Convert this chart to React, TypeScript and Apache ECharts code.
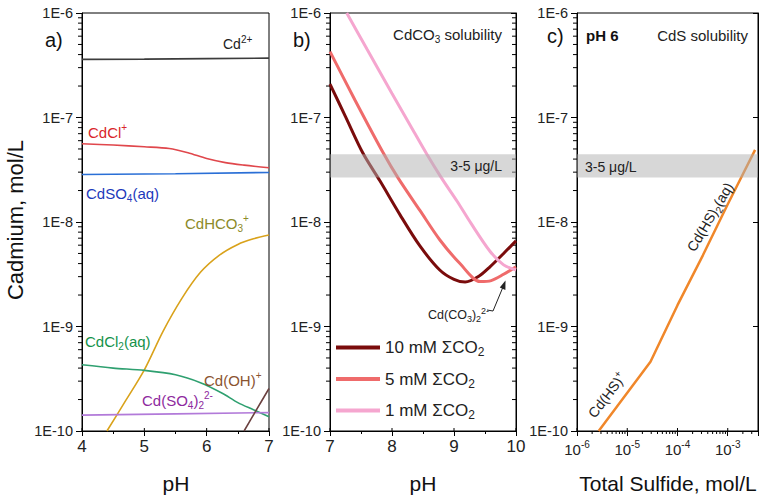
import React, { useEffect, useRef } from "react";
import * as echarts from "echarts";

const FONT = '"Liberation Sans", Arial, Helvetica, sans-serif';

// ---------- Panel a) Cd speciation vs pH ----------
const phCd2 = [4, 5, 6, 7];
const valCd2 = [3.6e-7, 3.62e-7, 3.66e-7, 3.7e-7];
const phCdCl = [4, 4.5, 5, 5.4, 5.7, 6.0, 6.3, 6.6, 7];
const valCdCl = [5.6e-8, 5.45e-8, 5.25e-8, 5.05e-8, 4.6e-8, 4.05e-8, 3.7e-8, 3.5e-8, 3.3e-8];
const phCdSO4 = [4, 5.5, 7];
const valCdSO4 = [2.85e-8, 2.9e-8, 2.98e-8];
const phCdHCO3 = [4.4, 4.7, 5.0, 5.3, 5.6, 5.9, 6.2, 6.5, 6.75, 7.0];
const valCdHCO3 = [1.0e-10, 1.95e-10, 3.85e-10, 9.0e-10, 1.85e-9, 3.3e-9, 4.8e-9, 6.1e-9, 6.9e-9, 7.5e-9];
const phCdCl2 = [4, 4.5, 5, 5.5, 5.9, 6.25, 6.5, 6.75, 7];
const valCdCl2 = [4.3e-10, 4.0e-10, 3.8e-10, 3.45e-10, 2.9e-10, 2.3e-10, 1.87e-10, 1.6e-10, 1.37e-10];
const phCdSO42 = [4, 5.5, 7];
const valCdSO42 = [1.42e-10, 1.46e-10, 1.5e-10];
const phCdOH = [6.6, 6.8, 7.0];
const valCdOH = [1.0e-10, 1.6e-10, 2.55e-10];

// ---------- Panel b) CdCO3 solubility ----------
const ph10 = [7.0, 7.25, 7.53, 7.81, 8.13, 8.45, 8.77, 9.0, 9.18, 9.4, 9.58, 9.8, 10.0];
const val10 = [2.09e-7, 1.02e-7, 4.57e-8, 2.45e-8, 1.17e-8, 5.9e-9, 3.47e-9, 2.82e-9, 2.66e-9, 3.02e-9, 3.72e-9, 5.0e-9, 6.6e-9];
const ph5 = [7.0, 7.4, 7.86, 8.1, 8.45, 8.77, 9.1, 9.42, 9.6, 9.8, 10.0];
const val5 = [4.27e-7, 1.48e-7, 4.57e-8, 2.63e-8, 1.29e-8, 6.76e-9, 3.98e-9, 2.69e-9, 2.75e-9, 3.16e-9, 3.72e-9];
const ph1 = [7.27, 7.6, 8.0, 8.3, 8.56, 8.8, 9.05, 9.27, 9.58, 9.8, 10.0];
const val1 = [1.0e-6, 4.47e-7, 1.7e-7, 8.3e-8, 4.47e-8, 2.63e-8, 1.58e-8, 9.8e-9, 5.25e-9, 3.89e-9, 3.47e-9];
const legendNames = ["10 mM \u03A3CO2", "5 mM \u03A3CO2", "1 mM \u03A3CO2"];

// ---------- Panel c) CdS solubility ----------
const sulfide = [2.7e-6, 2.9e-5, 1.0e-4, 3.2e-4, 1.0e-3, 3.5e-3];
const valCdS = [1.0e-10, 4.6e-10, 1.6e-9, 4.8e-9, 1.48e-8, 4.9e-8];

// 3-5 ug/L band (mol/L)
const bandLow = 2.67e-8;
const bandHigh = 4.45e-8;

// axis ranges / ticks
const yMin = 1e-10;
const yMax = 1e-6;
const xMinC = 1e-6;
const xMaxC = 4e-3;
const majorXA = [4, 5, 6, 7];
const majorXB = [7, 8, 9, 10];
const majorXC = [1e-6, 1e-5, 1e-4, 1e-3];
const minorMult = [2, 3, 4, 5, 6, 7, 8, 9];
const decadesY = [1e-10, 1e-9, 1e-8, 1e-7];
const decadesX = [1e-6, 1e-5, 1e-4, 1e-3];

const zip = (xs: number[], ys: number[]) => xs.map((x, i) => [x, ys[i]]);

function chemText(segs: [string, string][], color: string, size: number, bold = false) {
  const text = segs.map(([t, k]) => `{${k || "n"}|${t}}`).join("");
  const small = Math.round(size * 0.68);
  const base = { fill: color, fontFamily: FONT, fontWeight: bold ? "bold" : "normal" };
  return {
    text,
    rich: {
      n: { ...base, fontSize: size, lineHeight: size + 5 },
      sub: { ...base, fontSize: small, lineHeight: small + 1, verticalAlign: "bottom" },
      sup: { ...base, fontSize: small, lineHeight: small + 1, verticalAlign: "top" },
    },
  };
}

function label(x: number, y: number, segs: [string, string][], color: string, size: number, opts: any = {}) {
  const st = chemText(segs, color, size, opts.bold);
  return {
    type: "text",
    x,
    y,
    rotation: opts.rotation || 0,
    silent: true,
    z: 20,
    style: {
      ...st,
      fill: color,
      align: opts.align || "left",
      textAlign: opts.align || "left",
      verticalAlign: "middle",
      textVerticalAlign: "middle",
    },
  };
}

function plainText(x: number, y: number, text: string, size: number, rotation = 0) {
  return {
    type: "text",
    x,
    y,
    rotation,
    silent: true,
    style: { text, fill: "#111", fontFamily: FONT, fontSize: size, align: "center", textAlign: "center", verticalAlign: "middle", textVerticalAlign: "middle" },
  };
}

function buildLabels(): any[] {
  return [
    plainText(15, 220, "Cadmium, mol/L", 22, Math.PI / 2),
    plainText(176, 483, "pH", 21),
    plainText(423, 483, "pH", 21),
    plainText(668, 483, "Total Sulfide, mol/L", 21),
    // panel letters
    label(45, 40, [["a)", ""]], "#111", 20),
    label(293, 40, [["b)", ""]], "#111", 20),
    label(547, 36, [["c)", ""]], "#111", 20),
    // panel a species labels
    label(223, 44, [["Cd", ""], ["2+", "sup"]], "#222", 14),
    label(88, 132, [["CdCl", ""], ["+", "sup"]], "#d9262b", 15),
    label(86, 193, [["CdSO", ""], ["4", "sub"], ["(aq)", ""]], "#1c39bb", 15),
    label(185, 223, [["CdHCO", ""], ["3", "sub"], ["+", "sup"]], "#8c8a28", 15),
    label(85, 341, [["CdCl", ""], ["2", "sub"], ["(aq)", ""]], "#14924a", 15),
    label(204, 380, [["Cd(OH)", ""], ["+", "sup"]], "#8a5430", 15),
    label(142, 400, [["Cd(SO", ""], ["4", "sub"], [")", ""], ["2", "sub"], ["2-", "sup"]], "#8e2a9e", 15),
    // panel b texts
    label(502, 34, [["CdCO", ""], ["3", "sub"], [" solubility", ""]], "#222", 15, { align: "right" }),
    label(502, 166, [["3-5 \u03BCg/L", ""]], "#222", 14, { align: "right" }),
    label(428, 315, [["Cd(CO", ""], ["3", "sub"], [")", ""], ["2", "sub"], ["2-", "sup"]], "#222", 12.5),
    {
      type: "polyline",
      silent: true,
      z: 20,
      shape: { points: [[487, 310], [493, 311], [503, 287]] },
      style: { stroke: "#222", lineWidth: 1, fill: "none" },
    },
    {
      type: "polygon",
      silent: true,
      z: 20,
      shape: { points: [[505.5, 280.5], [505.4, 290], [499.8, 287.6]] },
      style: { fill: "#222" },
    },
    // panel c texts
    label(586, 35, [["pH 6", ""]], "#111", 15, { bold: true }),
    label(748, 35, [["CdS solubility", ""]], "#222", 15, { align: "right" }),
    label(585, 167, [["3-5 \u03BCg/L", ""]], "#222", 14),
    label(607, 395, [["Cd(HS)", ""], ["+", "sup"]], "#222", 14, { align: "center", rotation: 0.92 }),
    label(710, 217, [["Cd(HS)", ""], ["2", "sub"], ["(aq)", ""]], "#222", 14, { align: "center", rotation: 1.04 }),
  ];
}

export default function App() {
  const ref = useRef<HTMLDivElement>(null);

  useEffect(() => {
    if (!ref.current) return;
    const chart = echarts.init(ref.current, undefined, { renderer: "svg" });

    const minorY = decadesY.flatMap((d) => minorMult.map((m) => m * d));
    const minorX = decadesX.flatMap((d) => minorMult.map((m) => m * d)).filter((v) => v < xMaxC);

    const line = (name: string, idx: number, xs: number[], ys: number[], color: string, width: number, smooth: any = 0.3) => ({
      name,
      type: "line",
      xAxisIndex: idx,
      yAxisIndex: idx,
      data: zip(xs, ys),
      smooth,
      showSymbol: false,
      symbol: "none",
      lineStyle: { color, width },
      itemStyle: { color },
      z: 3,
    });

    const band = (idx: number) => ({
      type: "line",
      xAxisIndex: idx,
      yAxisIndex: idx,
      data: [],
      silent: true,
      markArea: {
        silent: true,
        z: 5,
        itemStyle: { color: "rgba(175,175,175,0.5)" },
        label: { show: false },
        data: [[{ yAxis: bandLow }, { yAxis: bandHigh }]],
      },
    });

    const axisText = { color: "#222", fontFamily: FONT };
    const grids = [
      { left: 82, top: 13, width: 187, height: 418 },
      { left: 330, top: 13, width: 186, height: 418 },
      { left: 577, top: 13, width: 181, height: 418 },
    ].map((g) => ({ ...g, show: true, borderColor: "#000", borderWidth: 1, backgroundColor: "transparent" }));

    const xCommon = {
      axisLine: { show: true, onZero: false, lineStyle: { color: "#000", width: 1 } },
      axisTick: { show: true, length: 5, lineStyle: { color: "#000" } },
      minorTick: { show: true, splitNumber: 2, length: 3, lineStyle: { color: "#000" } },
      axisLabel: { ...axisText, fontSize: 17, margin: 7 },
      splitLine: { show: false },
    };

    const yCommon = {
      type: "log",
      logBase: 10,
      min: yMin,
      max: yMax,
      axisLine: { show: true, lineStyle: { color: "#000", width: 1 } },
      axisTick: { show: true, length: 6, lineStyle: { color: "#000" } },
      axisLabel: {
        ...axisText,
        fontSize: 14.5,
        margin: 9,
        formatter: (v: number) => "1E" + Math.round(Math.log10(v)),
      },
      splitLine: { show: false },
    };

    const yRight = (gi: number) => ({
      ...yCommon,
      gridIndex: gi,
      position: "right",
      axisTick: { show: true, inside: true, length: 5, lineStyle: { color: "#000" } },
      axisLabel: { show: false },
    });

    const option: any = {
      animation: false,
      textStyle: { fontFamily: FONT },
      grid: grids,
      xAxis: [
        { ...xCommon, gridIndex: 0, type: "value", min: 4, max: 7, interval: 1 },
        { ...xCommon, gridIndex: 1, type: "value", min: 7, max: 10, interval: 1 },
        {
          ...xCommon,
          gridIndex: 2,
          type: "log",
          logBase: 10,
          min: xMinC,
          max: xMaxC,
          minorTick: { show: false },
          axisLabel: {
            ...axisText,
            margin: 8,
            formatter: (v: number) => {
              const e = Math.log10(v);
              if (Math.abs(e - Math.round(e)) > 1e-6) return "";
              return `{b|10}{s|${Math.round(e)}}`;
            },
            rich: {
              b: { fontSize: 15, lineHeight: 20, color: "#222", fontFamily: FONT },
              s: { fontSize: 10, lineHeight: 10, verticalAlign: "top", color: "#222", fontFamily: FONT },
            },
          },
        },
      ],
      yAxis: [
        { ...yCommon, gridIndex: 0 },
        { ...yCommon, gridIndex: 1 },
        { ...yCommon, gridIndex: 2 },
        yRight(1),
        yRight(2),
      ],
      legend: {
        data: legendNames,
        orient: "vertical",
        left: 336,
        top: 339,
        padding: 0,
        icon: "rect",
        itemWidth: 44,
        itemHeight: 4,
        itemGap: 12.5,
        selectedMode: false,
        formatter: (n: string) => `{n|${n.slice(0, -1)}}{s|2}`,
        textStyle: {
          color: "#222",
          fontFamily: FONT,
          fontSize: 17,
          rich: {
            n: { fontSize: 17, lineHeight: 21, color: "#222", fontFamily: FONT },
            s: { fontSize: 12, lineHeight: 12, verticalAlign: "bottom", color: "#222", fontFamily: FONT },
          },
        },
      },
      series: [
        // panel a (series 0-6)
        line("Cd2+", 0, phCd2, valCd2, "#3c3c3c", 1.6, false),
        line("CdCl+", 0, phCdCl, valCdCl, "#e0474c", 1.6),
        line("CdSO4", 0, phCdSO4, valCdSO4, "#2a6fd6", 1.6, false),
        line("CdHCO3+", 0, phCdHCO3, valCdHCO3, "#d9a21b", 1.6),
        line("CdCl2", 0, phCdCl2, valCdCl2, "#2fa070", 1.6),
        line("Cd(SO4)2", 0, phCdSO42, valCdSO42, "#b27ad9", 1.6, false),
        line("Cd(OH)+", 0, phCdOH, valCdOH, "#6b4140", 1.6),
        // panel b (series 7-10)
        line(legendNames[0], 1, ph10, val10, "#7a0c0c", 3),
        line(legendNames[1], 1, ph5, val5, "#ef6b6b", 3),
        line(legendNames[2], 1, ph1, val1, "#f5a6cf", 3),
        band(1),
        // panel c (series 11-12)
        line("CdS", 2, sulfide, valCdS, "#f0872a", 2.5, false),
        band(2),
      ],
    };

    // first pass: axes and series only
    chart.setOption(option);

    // logarithmic minor ticks (and inner halves of x major ticks), placed through the axes' scales
    const ticks: any[] = [];
    const tick = (x1: number, y1: number, x2: number, y2: number) => {
      if ([x1, y1, x2, y2].every((n) => isFinite(n))) {
        ticks.push({ type: "line", shape: { x1, y1, x2, y2 }, style: { stroke: "#000", lineWidth: 1 } });
      }
    };
    const toPx = (series: number, pt: number[]) => {
      try {
        return chart.convertToPixel({ seriesIndex: series }, pt) as number[];
      } catch (e) {
        return [NaN, NaN];
      }
    };
    minorY.forEach((v) => {
      const a = toPx(0, [4, v]);
      tick(a[0] - 4, a[1], a[0], a[1]);
      const bl = toPx(7, [7, v]);
      tick(bl[0] - 4, bl[1], bl[0], bl[1]);
      const br = toPx(7, [10, v]);
      tick(br[0] - 4, br[1], br[0], br[1]);
      const c = toPx(11, [xMinC, v]);
      tick(c[0] - 4, c[1], c[0], c[1]);
    });
    minorX.forEach((v) => {
      const p = toPx(11, [v, yMin]);
      tick(p[0], p[1], p[0], p[1] + 3);
    });
    majorXA.forEach((v) => {
      const p = toPx(0, [v, yMin]);
      tick(p[0], p[1] - 3, p[0], p[1]);
    });
    majorXB.forEach((v) => {
      const p = toPx(7, [v, yMin]);
      tick(p[0], p[1] - 3, p[0], p[1]);
    });
    majorXC.forEach((v) => {
      const p = toPx(11, [v, yMin]);
      tick(p[0], p[1] - 3, p[0], p[1]);
    });

    // second pass: ticks first, then all annotation texts (fresh objects)
    try {
      chart.setOption({ graphic: ticks.concat(buildLabels()) });
    } catch (e) {
      try {
        chart.setOption({ graphic: buildLabels() });
      } catch (e2) {
        // ignore
      }
    }

    return () => chart.dispose();
  }, []);

  return (
    <div
      ref={ref}
      style={{ position: "fixed", left: 0, top: 0, width: 764, height: 498, background: "#fff" }}
    />
  );
}
